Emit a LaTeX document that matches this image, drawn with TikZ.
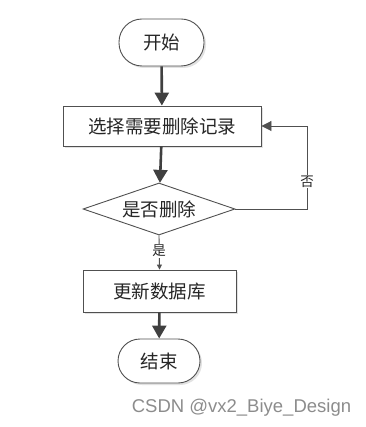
\documentclass[tikz,border=0pt]{standalone}
\usepackage{fontspec}
\newfontfamily\cjk{Noto Sans CJK SC}
\newfontfamily\wm{Liberation Sans}
\usetikzlibrary{shapes.geometric,arrows.meta}
\definecolor{edge}{HTML}{505050}
\definecolor{arr}{HTML}{404040}
\definecolor{shd}{HTML}{E2E2E2}
\tikzset{
  base/.style={draw=edge, line width=0.9pt, fill=white, inner sep=0pt, font=\cjk\fontsize{18.5}{20}\selectfont,
    text=black!85},
  term/.style={base, rounded corners=23pt, minimum width=85pt, minimum height=47pt},
  proc/.style={base, rectangle, minimum width=198pt, minimum height=40pt},
  dec/.style={base, diamond, aspect=2.9, minimum width=152pt, minimum height=52pt},
  thick arr/.style={draw=arr, line width=2.6pt, -{Triangle[length=13pt,width=14pt]}},
  thin arr/.style={draw=edge, line width=0.9pt, -{Triangle[length=10pt,width=10pt]}},
  lab/.style={font=\cjk\fontsize{13.5}{14}\selectfont, fill=white, inner sep=1pt, text=black!85},
}
\begin{document}
\begin{tikzpicture}[x=1pt,y=-1pt]
\useasboundingbox (0,0) rectangle (365,427);
% shadows
\fill[shd, rounded corners=23pt] (121,21) rectangle (206,68);
\fill[shd] (65,108) rectangle (263,148);
\fill[shd] (85,272) rectangle (238,314);
\fill[shd, rounded corners=22pt] (120,341) rectangle (202,385);
\node[term] (start) at (161.5,42.5) {开始};
\node[proc] (sel) at (162,126) {选择需要删除记录};
\node[dec] (chk) at (159,209) {是否删除};
\node[proc, minimum width=153pt, minimum height=42pt] (upd) at (159.5,291) {更新数据库};
\node[term, minimum width=82pt, minimum height=44pt, rounded corners=22pt] (end) at (159,361) {结束};
\coordinate (c1) at (307,209);
\coordinate (c2) at (307,126);
\draw[thick arr] (start) -- (sel);
\draw[thick arr] (sel) -- (chk);
\draw[thin arr] (chk.east) -- (c1) -- node[lab, pos=0.33]{否} (c2) -- (sel.east);
\draw[draw=edge, line width=0.9pt, -{Triangle[length=5pt,width=5pt]}] (chk.south) -- node[lab, pos=0.45]{是} (upd.north);
\draw[thick arr] (upd) -- (end);
\node[font=\wm\fontsize{18.5}{20}\selectfont, text=black!45, anchor=center] (wm) at (241.5,408) {CSDN @vx2\_Biye\_Design};
\end{tikzpicture}
\end{document}
